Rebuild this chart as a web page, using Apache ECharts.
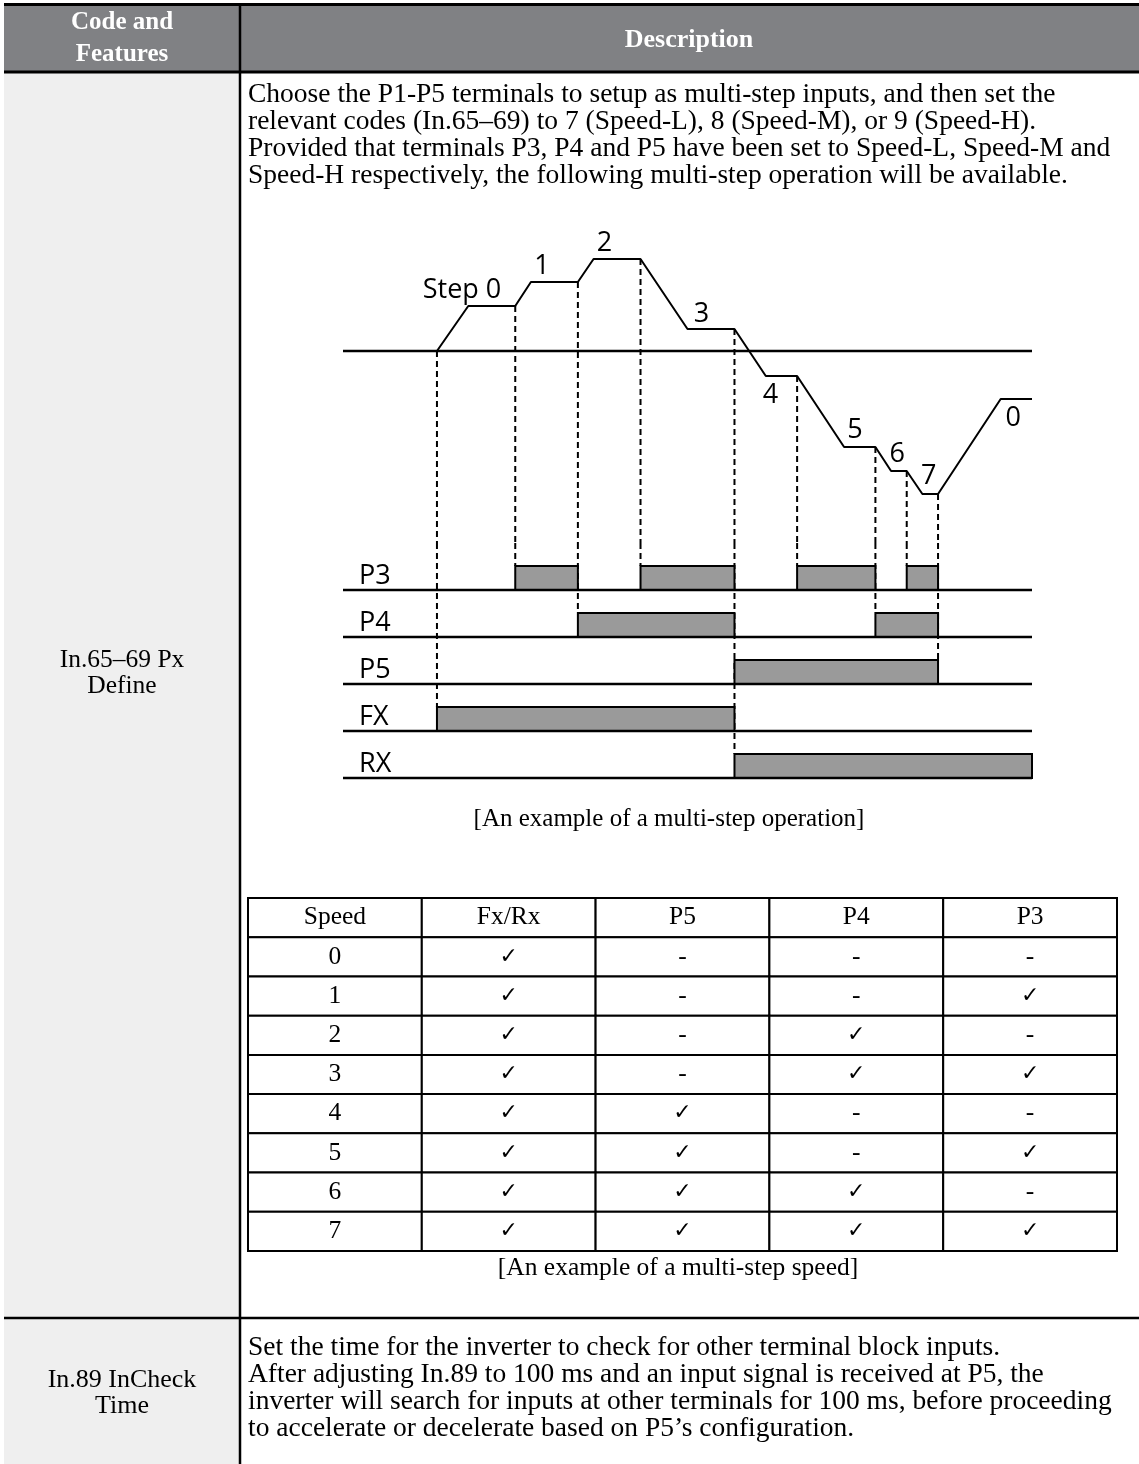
<!DOCTYPE html>
<html lang="en">
<head>
<meta charset="utf-8" />
<title>Multi-step operation</title>
<style>
  html, body { margin: 0; padding: 0; background: #fff; }
  #page { width: 1139px; height: 1464px; }
</style>
</head>
<body>
<div id="page"></div>
<script src="https://cdn.jsdelivr.net/npm/echarts@6/dist/echarts.min.js"></script>
<script>
var SERIF = "'Liberation Serif', 'Times New Roman', serif";
var SANS = "'Open Sans', 'DejaVu Sans', sans-serif";

// description text
var introLines = [
  'Choose the P1-P5 terminals to setup as multi-step inputs, and then set the',
  'relevant codes (In.65\u201369) to 7 (Speed-L), 8 (Speed-M), or 9 (Speed-H).',
  'Provided that terminals P3, P4 and P5 have been set to Speed-L, Speed-M and',
  'Speed-H respectively, the following multi-step operation will be available.'
];
var inCheckLines = [
  'Set the time for the inverter to check for other terminal block inputs.',
  'After adjusting In.89 to 100 ms and an input signal is received at P5, the',
  'inverter will search for inputs at other terminals for 100 ms, before proceeding',
  'to accelerate or decelerate based on P5\u2019s configuration.'
];

// speed profile (time in arbitrary units, + forward / - reverse)
var profileTimes  = [6, 8, 11, 12, 15, 16, 19, 22, 25, 27, 29, 32, 34, 35, 36, 37, 38, 42, 44];
var profileSpeeds = [0, 45, 45, 69, 69, 92, 92, 22, 22, -25, -25, -96, -96, -120, -120, -143, -143, -48, -48];

var stepNames  = ['Step 0', '1', '2', '3', '4', '5', '6', '7', '0'];
var stepLabelT = [7.6, 12.7, 16.7, 22.9, 27.3, 32.7, 35.4, 37.4, 42.8];
var stepLabelV = [61, 85, 108, 37, -44, -79, -103, -125, -67];

// terminal signals, bottom row first
var signalNames = ['RX', 'FX', 'P5', 'P4', 'P3'];
var rxOn = [[25, 44]];
var fxOn = [[6, 25]];
var p5On = [[25, 38]];
var p4On = [[15, 25], [34, 38]];
var p3On = [[11, 15], [19, 25], [29, 34], [36, 38]];

// speed table
var tableCols = ['Speed', 'Fx/Rx', 'P5', 'P4', 'P3'];
var speedSteps = ['0', '1', '2', '3', '4', '5', '6', '7'];
var fxrxSet = [1, 1, 1, 1, 1, 1, 1, 1];
var p5Set   = [0, 0, 0, 0, 1, 1, 1, 1];
var p4Set   = [0, 0, 1, 1, 0, 0, 1, 1];
var p3Set   = [0, 1, 0, 1, 0, 1, 0, 1];

var T_END = 44;
var PULSE_H = 0.51;

var chart = echarts.init(document.getElementById('page'));

// pulses and edge times
var signalOn = [rxOn, fxOn, p5On, p4On, p3On];
var pulses = [];
var edgeRow = {};
signalOn.forEach(function (list, row) {
  list.forEach(function (p) {
    pulses.push([row, p[0], p[1]]);
    [p[0], p[1]].forEach(function (t) {
      if (t >= T_END) return;
      if (edgeRow[t] === undefined || row < edgeRow[t]) edgeRow[t] = row;
    });
  });
});
var guideTop = [], guideBottom = [];
Object.keys(edgeRow).forEach(function (k) {
  var t = +k;
  guideTop.push([t, profileSpeeds[profileTimes.indexOf(t)]]);
  guideBottom.push([t, edgeRow[k] + PULSE_H]);
});

var profile = profileTimes.map(function (t, i) { return [t, profileSpeeds[i]]; });
var stepLabels = stepNames.map(function (n, i) { return [stepLabelT[i], stepLabelV[i]]; });
var signalLabels = signalNames.map(function (n, i) { return [0, i]; });
var baselines = signalNames.map(function (n, i) { return [0, T_END, i]; });

// table cells
var colSets = [null, fxrxSet, p5Set, p4Set, p3Set];
var cells = [];
tableCols.forEach(function (c, ci) { cells.push([ci, 0, c]); });
speedSteps.forEach(function (s, ri) {
  colSets.forEach(function (set, ci) {
    cells.push([ci, ri + 1, ci === 0 ? s : (set[ri] ? '\u2713' : '-')]);
  });
});
var tableRows = ['head'].concat(speedSteps);

function txt(s, x, y, o) {
  o = o || {};
  return {
    type: 'text', x: x, y: y,
    style: {
      text: s, fill: o.fill || '#000',
      font: (o.bold ? 'bold ' : '') + (o.size || 25) + 'px ' + SERIF,
      align: o.align || 'left', verticalAlign: 'middle'
    }
  };
}

var W = 1139, H = 1464, LEFT = 4, DIV = 240, HEAD_B = 72, ROW_B = 1318;
var BODY = 27.5;
var graphics = [
  { type: 'rect', shape: { x: LEFT, y: 5, width: W - LEFT, height: HEAD_B - 5 }, style: { fill: '#808184' } },
  { type: 'rect', shape: { x: LEFT, y: HEAD_B, width: DIV - LEFT, height: H - HEAD_B }, style: { fill: '#efefef' } },
  { type: 'line', shape: { x1: LEFT, y1: 4.5, x2: W, y2: 4.5 }, style: { stroke: '#000', lineWidth: 3 } },
  { type: 'line', shape: { x1: LEFT, y1: HEAD_B, x2: W, y2: HEAD_B }, style: { stroke: '#000', lineWidth: 3 } },
  { type: 'line', shape: { x1: DIV, y1: 4, x2: DIV, y2: H }, style: { stroke: '#000', lineWidth: 2.5 } },
  { type: 'line', shape: { x1: LEFT, y1: ROW_B, x2: W, y2: ROW_B }, style: { stroke: '#000', lineWidth: 2.5 } },
  txt('Code and', 122, 23, { bold: true, fill: '#fff', align: 'center' }),
  txt('Features', 122, 55, { bold: true, fill: '#fff', align: 'center' }),
  txt('Description', 689, 40, { bold: true, fill: '#fff', align: 'center', size: 26 }),
  txt('In.65\u201369 Px', 122, 660, { align: 'center', size: 25.5 }),
  txt('Define', 122, 686, { align: 'center', size: 25.5 }),
  txt('In.89 InCheck', 122, 1380, { align: 'center', size: 26 }),
  txt('Time', 122, 1406, { align: 'center', size: 26 }),
  txt('[An example of a multi-step operation]', 669, 819, { align: 'center' }),
  txt('[An example of a multi-step speed]', 678, 1268, { align: 'center', size: 25.5 })
];
introLines.forEach(function (s, i) { graphics.push(txt(s, 248, 95 + i * 27, { size: BODY })); });
inCheckLines.forEach(function (s, i) { graphics.push(txt(s, 248, 1348 + i * 27, { size: BODY })); });

var black = '#000';

chart.setOption({
  animation: false,
  backgroundColor: '#fff',
  grid: [
    { left: 343, width: 689, top: 241, height: 302 },
    { left: 343, width: 689, top: 543, height: 235 },
    { left: 248, width: 869, top: 898, height: 353 }
  ],
  xAxis: [
    { gridIndex: 0, type: 'value', min: 0, max: T_END, show: false },
    { gridIndex: 1, type: 'value', min: 0, max: T_END, show: false },
    { gridIndex: 2, type: 'category', data: tableCols, show: false }
  ],
  yAxis: [
    { gridIndex: 0, type: 'value', min: -192, max: 110, show: false },
    { gridIndex: 1, type: 'value', min: 0, max: 5, show: false },
    { gridIndex: 2, type: 'category', data: tableRows, inverse: true, show: false }
  ],
  graphic: graphics,
  series: [
    {
      type: 'line', xAxisIndex: 0, yAxisIndex: 0, data: [[0, 0], [T_END, 0]],
      symbol: 'none', lineStyle: { color: black, width: 2.4 }, silent: true
    },
    {
      type: 'custom', xAxisIndex: 0, yAxisIndex: 0, data: guideTop, silent: true,
      renderItem: function (params, api) {
        var a = api.coord([api.value(0), api.value(1)]);
        var b = api.coord([api.value(0), -192]);
        return { type: 'line', shape: { x1: a[0], y1: a[1], x2: b[0], y2: b[1] },
          style: { stroke: black, lineWidth: 2, lineDash: [6, 4] } };
      }
    },
    {
      type: 'line', xAxisIndex: 0, yAxisIndex: 0, data: profile,
      symbol: 'none', lineStyle: { color: black, width: 2 }, silent: true
    },
    {
      type: 'custom', xAxisIndex: 0, yAxisIndex: 0, data: stepLabels, silent: true,
      renderItem: function (params, api) {
        var p = api.coord([api.value(0), api.value(1)]);
        return { type: 'text', x: p[0], y: p[1],
          style: { text: stepNames[params.dataIndex], font: '27px ' + SANS, fill: black,
            align: 'center', verticalAlign: 'middle' } };
      }
    },
    {
      type: 'custom', xAxisIndex: 1, yAxisIndex: 1, data: guideBottom, silent: true,
      renderItem: function (params, api) {
        var a = api.coord([api.value(0), 5]);
        var b = api.coord([api.value(0), api.value(1)]);
        return { type: 'line', shape: { x1: a[0], y1: a[1], x2: b[0], y2: b[1] },
          style: { stroke: black, lineWidth: 2, lineDash: [6, 4] } };
      }
    },
    {
      type: 'custom', xAxisIndex: 1, yAxisIndex: 1, data: pulses, silent: true,
      renderItem: function (params, api) {
        var a = api.coord([api.value(1), api.value(0)]);
        var b = api.coord([api.value(2), api.value(0) + PULSE_H]);
        return { type: 'rect', shape: { x: a[0], y: b[1], width: b[0] - a[0], height: a[1] - b[1] },
          style: { fill: '#9a9a9a', stroke: black, lineWidth: 2 } };
      }
    },
    {
      type: 'custom', xAxisIndex: 1, yAxisIndex: 1, data: baselines, silent: true,
      renderItem: function (params, api) {
        var a = api.coord([api.value(0), api.value(2)]);
        var b = api.coord([api.value(1), api.value(2)]);
        return { type: 'line', shape: { x1: a[0], y1: a[1], x2: b[0], y2: b[1] },
          style: { stroke: black, lineWidth: 2.4 } };
      }
    },
    {
      type: 'custom', xAxisIndex: 1, yAxisIndex: 1, data: signalLabels, silent: true,
      renderItem: function (params, api) {
        var p = api.coord([api.value(0), api.value(1)]);
        return { type: 'text', x: p[0] + 16, y: p[1] - 14,
          style: { text: signalNames[params.dataIndex], font: '27px ' + SANS, fill: black,
            align: 'left', verticalAlign: 'middle' } };
      }
    },
    {
      type: 'custom', xAxisIndex: 2, yAxisIndex: 2, silent: true,
      data: cells.map(function (c) { return [c[0], c[1]]; }),
      renderItem: function (params, api) {
        var p = api.coord([api.value(0), api.value(1)]);
        var s = api.size([1, 1]);
        var label = cells[params.dataIndex][2];
        var isCheck = label === '\u2713';
        return { type: 'group', children: [
          { type: 'rect', shape: { x: p[0] - s[0] / 2, y: p[1] - s[1] / 2, width: s[0], height: s[1] },
            style: { fill: '#fff', stroke: black, lineWidth: 2 } },
          { type: 'text', x: p[0], y: p[1],
            style: { text: label, fill: black, align: 'center', verticalAlign: 'middle',
              font: (isCheck ? '22px ' : '25.5px ') + (isCheck ? "'DejaVu Sans', sans-serif" : SERIF) } }
        ] };
      }
    }
  ]
});
</script>
</body>
</html>
